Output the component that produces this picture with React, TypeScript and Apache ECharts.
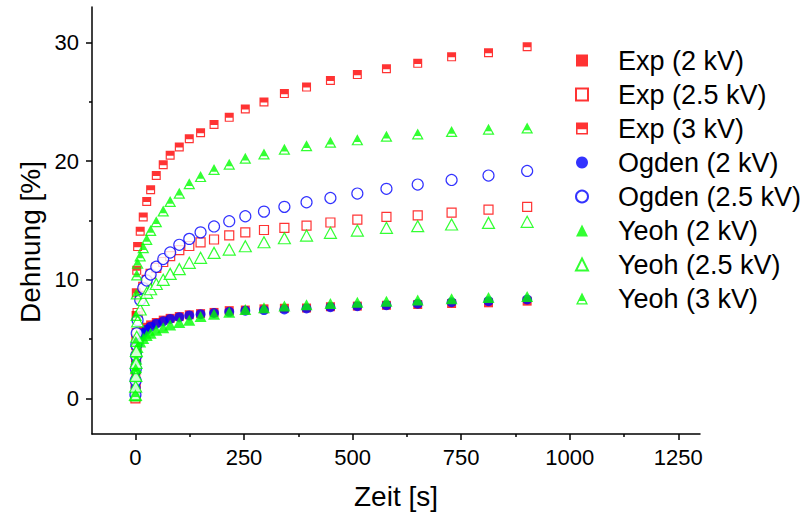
import React, { useEffect, useRef } from 'react';
import * as echarts from 'echarts';

// time points [s]
const time = [0, 0.5, 1, 1.5, 2, 3, 5, 11, 18, 26, 35, 48, 64, 80, 101, 124, 150, 181, 216, 253, 296, 343, 394, 449, 511, 578, 650, 728, 813, 902];

// Dehnung [%]
const exp2 = [0, 0.8, 1.8, 2.8, 3.6, 4.4, 5.0, 5.4, 5.7, 6.0, 6.2, 6.4, 6.6, 6.75, 6.9, 7.05, 7.15, 7.25, 7.4, 7.45, 7.55, 7.6, 7.62, 7.73, 7.78, 7.85, 7.92, 8.0, 8.06, 8.2];
const exp25 = [0, 1.2, 2.5, 3.5, 4.5, 5.5, 7.2, 8.6, 9.4, 10.0, 10.5, 11.0, 11.5, 12.0, 12.5, 12.85, 13.15, 13.4, 13.75, 14.0, 14.2, 14.38, 14.57, 14.83, 15.08, 15.31, 15.44, 15.67, 15.92, 16.15];
const exp3 = [0.2, 2.5, 5.0, 7.0, 8.9, 10.8, 12.8, 14.1, 15.3, 16.6, 17.6, 18.8, 19.7, 20.5, 21.2, 21.9, 22.4, 23.1, 23.7, 24.4, 25.0, 25.7, 26.25, 26.8, 27.3, 27.8, 28.25, 28.8, 29.15, 29.65];
const ogden2 = [0.2, 0.9, 1.6, 2.3, 3.0, 3.8, 4.6, 5.1, 5.5, 5.8, 6.05, 6.3, 6.5, 6.7, 6.85, 7.0, 7.1, 7.2, 7.3, 7.4, 7.45, 7.5, 7.58, 7.69, 7.78, 7.86, 7.98, 8.11, 8.2, 8.34];
const ogden25 = [0.3, 1.5, 2.5, 3.6, 4.5, 5.5, 6.6, 8.3, 9.3, 9.94, 10.45, 11.1, 11.75, 12.3, 12.95, 13.45, 14.0, 14.5, 14.94, 15.36, 15.75, 16.15, 16.54, 16.9, 17.27, 17.67, 18.03, 18.42, 18.79, 19.18];
const yeoh2 = [0.2, 1.0, 1.9, 2.6, 3.3, 3.9, 4.3, 4.75, 5.05, 5.3, 5.5, 5.75, 5.95, 6.2, 6.4, 6.6, 6.9, 7.1, 7.27, 7.5, 7.65, 7.8, 7.9, 8.0, 8.1, 8.2, 8.3, 8.4, 8.5, 8.6];
const yeoh25 = [0.3, 1.0, 1.9, 3.0, 4.0, 5.2, 6.5, 7.5, 8.3, 8.9, 9.2, 9.65, 10.0, 10.5, 10.9, 11.43, 11.85, 12.27, 12.55, 12.83, 13.17, 13.5, 13.73, 13.96, 14.15, 14.38, 14.52, 14.66, 14.8, 14.89];
const yeoh3 = [0.3, 2.5, 4.8, 7.0, 8.8, 10.4, 11.4, 12.0, 12.7, 13.4, 14.15, 14.9, 15.8, 16.6, 17.3, 18.1, 18.7, 19.3, 19.75, 20.25, 20.6, 21.0, 21.3, 21.6, 21.8, 22.1, 22.3, 22.5, 22.7, 22.8];

const seriesNames = ['Exp (2 kV)', 'Exp (2.5 kV)', 'Exp (3 kV)', 'Ogden (2 kV)', 'Ogden (2.5 kV)', 'Yeoh (2 kV)', 'Yeoh (2.5 kV)', 'Yeoh (3 kV)'];

const xTicks = [0, 250, 500, 750, 1000, 1250];
const xMinorTicks = [125, 375, 625, 875, 1125];
const yTicks = [0, 10, 20, 30];
const yMinorTicks = [5, 15, 25];

const RED = '#ff0000';
const BLUE = '#0000ff';
const GREEN = '#00ff00';
const FONT = 'Liberation Sans, Arial, Helvetica, sans-serif';

const HALF_SQ = 'path://M0,0L10,0L10,10L0,10Z M1.3,5.6L1.3,8.7L8.7,8.7L8.7,5.6Z';
const HALF_TRI = 'path://M5,0L10,10L0,10Z M1.8,8.9L8.2,8.9L7.3,7.0L2.7,7.0Z';

export default function App() {
  const ref = useRef<HTMLDivElement>(null);

  useEffect(() => {
    document.body.style.margin = '0';
    if (!ref.current) return;
    const chart = echarts.init(ref.current, null, { renderer: 'svg' });

    const mk = (vals: number[]) => time.map((t, i) => [t, vals[i]]);
    const hollow = (c: string) => ({ color: '#ffffff', borderColor: c, borderWidth: 1.2 });

    const defs: any[] = [
      { data: exp2, symbol: 'rect', symbolSize: 9, itemStyle: { color: RED } },
      { data: exp25, symbol: 'rect', symbolSize: 9, itemStyle: hollow(RED) },
      { data: exp3, symbol: HALF_SQ, symbolSize: 9, itemStyle: { color: RED } },
      { data: ogden2, symbol: 'circle', symbolSize: 10, itemStyle: { color: BLUE } },
      { data: ogden25, symbol: 'circle', symbolSize: 11, itemStyle: hollow(BLUE) },
      { data: yeoh2, symbol: 'triangle', symbolSize: [12, 11], itemStyle: { color: GREEN } },
      { data: yeoh25, symbol: 'triangle', symbolSize: [12, 11], itemStyle: hollow(GREEN) },
      { data: yeoh3, symbol: HALF_TRI, symbolSize: [12, 11], itemStyle: { color: GREEN } },
    ];

    const series = defs.map((d, i) => ({
      name: seriesNames[i],
      type: 'scatter',
      xAxisIndex: 0,
      yAxisIndex: 0,
      data: mk(d.data),
      symbol: d.symbol,
      symbolSize: d.symbolSize,
      itemStyle: d.itemStyle,
      emphasis: { disabled: true },
    }));

    const legendIcons = ['rect', 'rect', HALF_SQ, 'circle', 'circle', 'triangle', 'triangle', HALF_TRI];

    const axisLine = { show: true, onZero: false, lineStyle: { color: '#000', width: 1.5 } };

    chart.setOption({
      animation: false,
      textStyle: { fontFamily: FONT },
      grid: { left: 92, right: 104, top: 7, bottom: 85, containLabel: false },
      legend: {
        orient: 'vertical',
        left: 570,
        top: 42,
        itemWidth: 12,
        itemHeight: 12,
        itemGap: 7,
        selectedMode: false,
        textStyle: { fontSize: 27, color: '#000', fontFamily: FONT, lineHeight: 24, padding: [0, 0, 0, 25] },
        data: seriesNames.map((n, i) => ({ name: n, icon: legendIcons[i] })),
      },
      xAxis: [
        {
          type: 'value',
          min: -100,
          max: 1300,
          position: 'bottom',
          axisLine,
          axisTick: { show: true, inside: false, length: 6, customValues: xTicks, lineStyle: { color: '#000', width: 1.5 } },
          axisLabel: { show: true, customValues: xTicks, fontSize: 22, color: '#000', margin: 12, fontFamily: FONT, formatter: (v: number) => String(v) },
          splitLine: { show: false },
          name: 'Zeit [s]',
          nameLocation: 'middle',
          nameGap: 48,
          nameTextStyle: { fontSize: 28, color: '#000', fontFamily: FONT },
        },
        {
          type: 'value',
          min: -100,
          max: 1300,
          position: 'bottom',
          axisLine: { show: false, onZero: false },
          axisTick: { show: true, length: 3, customValues: xMinorTicks, lineStyle: { color: '#000', width: 1.5 } },
          axisLabel: { show: false },
          splitLine: { show: false },
        },
      ],
      yAxis: [
        {
          type: 'value',
          min: -3,
          max: 33,
          position: 'left',
          axisLine,
          axisTick: { show: true, inside: false, length: 6, customValues: yTicks, lineStyle: { color: '#000', width: 1.5 } },
          axisLabel: { show: true, customValues: yTicks, fontSize: 22, color: '#000', margin: 13, fontFamily: FONT, formatter: (v: number) => String(v) },
          splitLine: { show: false },
        },
        {
          type: 'value',
          min: -3,
          max: 33,
          position: 'left',
          axisLine: { show: false, onZero: false },
          axisTick: { show: true, length: 3, customValues: yMinorTicks, lineStyle: { color: '#000', width: 1.5 } },
          axisLabel: { show: false },
          splitLine: { show: false },
        },
      ],
      graphic: [
        {
          type: 'text',
          x: 30,
          y: 242,
          rotation: Math.PI / 2,
          style: {
            text: 'Dehnung [%]',
            fontSize: 28,
            fontFamily: FONT,
            fill: '#000',
            textAlign: 'center',
            textVerticalAlign: 'middle',
          },
        },
      ],
      series,
    });

    return () => chart.dispose();
  }, []);

  return <div ref={ref} style={{ width: 804, height: 519 }} />;
}
